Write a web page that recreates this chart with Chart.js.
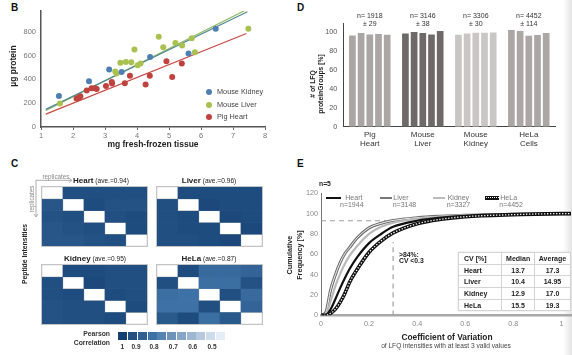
<!DOCTYPE html>
<html><head><meta charset="utf-8">
<script src="https://cdn.jsdelivr.net/npm/chart.js@4/dist/chart.umd.min.js"></script>
<style>
html,body{margin:0;padding:0;background:#fff;}
#fig{position:relative;width:572px;height:355px;overflow:hidden;background:#fff;font-family:'Liberation Sans',Arial,sans-serif;}
#fig canvas{position:absolute;}
.t{position:absolute;white-space:nowrap;line-height:1;}
#edge{position:absolute;left:563px;top:0;width:9px;height:355px;background:linear-gradient(to right,rgba(235,235,235,0),#e4e4e4);}
.hm{position:absolute;outline:0.7px solid #c4c4c4;}
#cvt{position:absolute;left:458px;top:252px;border-collapse:collapse;font-size:7px;font-weight:bold;color:#222;background:#fff;box-shadow:0 0 2px #ddd;}
#cvt td{border:0.6px solid #d4d4d4;height:10.7px;padding:0;text-align:center;}
#cvt td:first-child{text-align:left;padding-left:5px;}
</style></head><body><div id="fig"><div id="edge"></div></div>
<script>
// ---------- Panel B data ----------
const kidneyX = [1.56, 2.50, 3.13, 3.52, 4.41, 5.61, 6.46];
const kidneyY = [261, 385, 483, 463, 589, 618, 825];
const liverX = [1.59, 3.32, 3.36, 3.48, 3.65, 3.82, 3.92, 4.02, 4.11, 4.68, 4.82, 5.20, 5.41, 5.71, 5.81, 7.48];
const liverY = [197, 466, 449, 539, 547, 545, 652, 520, 534, 758, 671, 705, 685, 747, 629, 825];
const heartX = [2.11, 2.19, 2.23, 2.43, 2.58, 2.69, 2.74, 3.03, 3.21, 3.22, 3.62, 3.78, 4.27, 4.40, 4.92, 5.10, 5.40];
const heartY = [239, 248, 258, 306, 326, 326, 320, 345, 379, 365, 368, 430, 357, 430, 553, 421, 534];
const kidneyFitX = [1.15, 7.45], kidneyFitY = [148, 968];
const liverFitX = [1.15, 7.45], liverFitY = [138, 990];
const heartFitX = [1.15, 7.42], heartFitY = [108, 786];
const bLegend = ['Mouse Kidney', 'Mouse Liver', 'Pig Heart'];
const bXTicks = [1, 2, 3, 4, 5, 6, 7, 8];
const bYTicks = [0, 200, 400, 600, 800];

// ---------- Panel D data ----------
const dCategories = [['Pig','Heart'], ['Mouse','Liver'], ['Mouse','Kidney'], ['HeLa','Cells']];
const dRep1 = [96.8, 98.9, 97.5, 102.5];
const dRep2 = [99.3, 100.4, 98.9, 101.4];
const dRep3 = [97.9, 99.3, 99.6, 96.5];
const dRep4 = [98.2, 97.9, 99.6, 97.2];
const dRep5 = [97.5, 101.4, 100.0, 99.3];
const dN = ['n= 1918', 'n= 3146', 'n= 3306', 'n= 4452'];
const dSD = ['± 29', '± 38', '± 30', '± 114'];
const dYTicks = [0, 20, 40, 60, 80, 100];

// ---------- Panel C data ----------
const heartCorr = [
  [null, 0.95, 0.95, 0.95, 0.95],
  [0.93, null, 0.96, 0.94, 0.94],
  [0.94, 0.95, null, 0.95, 0.96],
  [0.93, 0.94, 0.95, null, 0.96],
  [0.93, 0.93, 0.94, 0.95, null]];
const liverCorr = [
  [null, 0.96, 0.96, 0.96, 0.96],
  [0.95, null, 0.97, 0.96, 0.96],
  [0.95, 0.96, null, 0.97, 0.96],
  [0.95, 0.96, 0.96, null, 0.97],
  [0.95, 0.95, 0.96, 0.97, null]];
const kidneyCorr = [
  [null, 0.96, 0.96, 0.95, 0.95],
  [0.95, null, 0.97, 0.95, 0.95],
  [0.95, 0.96, null, 0.96, 0.95],
  [0.94, 0.95, 0.95, null, 0.96],
  [0.94, 0.95, 0.95, 0.96, null]];
const helaCorr = [
  [null, 0.96, 0.87, 0.87, 0.89],
  [0.95, null, 0.86, 0.86, 0.94],
  [0.86, 0.85, null, 0.95, 0.87],
  [0.85, 0.85, 0.95, null, 0.89],
  [0.92, 0.96, 0.86, 0.92, null]];
const heatTitles = ['Heart', 'Liver', 'Kidney', 'HeLa'];
const heatAve = ['(ave.=0.94)', '(ave.=0.96)', '(ave.=0.95)', '(ave.=0.87)'];
const legendSteps = [1, 0.95, 0.9, 0.85, 0.8, 0.75, 0.7, 0.65, 0.6, 0.55, 0.5];
const legendLabels = ['1', '0.9', '0.8', '0.7', '0.6', '0.5'];

// ---------- Panel E data ----------
const cvX = [0, 0.02, 0.04, 0.06, 0.08, 0.10, 0.12, 0.15, 0.20, 0.25, 0.30, 0.40, 0.50, 0.60, 0.80, 1.00, 1.04];
const cvLiver  = [0, 3, 25, 40, 52, 61, 67, 76, 86, 90.5, 93.3, 96, 97.5, 98.5, 99.5, 100, 100];
const cvKidney = [0, 1, 14, 29, 41, 51, 59, 68, 80, 87, 91, 95, 97, 98.2, 99.4, 100, 100];
const cvHeart  = [0, 0, 6, 16, 27, 37, 46, 57, 71, 80, 87, 93, 96, 97.8, 99.2, 100, 100];
const cvHela   = [0, 0, 2, 6, 13, 22, 33, 45, 62, 73, 81, 90, 94.5, 97, 99, 100, 100];
const guideHX = [0, 0.27], guideHY = [93, 93];
const guideVX = [0.30, 0.30], guideVY = [0, 72];
const eXTicks = [0, 0.2, 0.4, 0.6, 0.8, 1];
const eYTicks = [0, 20, 40, 60, 80, 100, 120];
const eLegend = [['Heart','n=1944'], ['Liver','n=3148'], ['Kidney','n=3327'], ['HeLa','n=4452']];
const tableRows = [['CV [%]','Median','Average'], ['Heart','13.7','17.3'], ['Liver','10.4','14.95'], ['Kidney','12.9','17.0'], ['HeLa','15.5','19.3']];

// ---------- helpers ----------
const FONT = "'Liberation Sans', Arial, sans-serif";
Chart.defaults.font.family = FONT;
Chart.defaults.animation = false;
const fig = document.getElementById('fig');
function pts(xs, ys) { return xs.map((x, i) => ({x: x, y: ys[i]})); }
function fixTicks(arr) { return s => { s.ticks = arr.map(v => ({value: v})); }; }
function T(str, x, y, o = {}) {
  const d = document.createElement('div'); d.className = 't'; d.innerHTML = str;
  d.style.left = x + 'px'; d.style.top = y + 'px';
  d.style.fontSize = (o.size || 8) + 'px';
  if (o.bold) d.style.fontWeight = 'bold';
  d.style.color = o.color || '#222';
  const ax = o.align === 'left' ? '0' : o.align === 'right' ? '-100%' : '-50%';
  d.style.transform = 'translate(' + ax + ',-50%)' + (o.rot ? ' rotate(' + o.rot + 'deg)' : '');
  fig.appendChild(d); return d;
}
function canvas(x, y, w, h, cls) {
  const c = document.createElement('canvas'); c.width = w; c.height = h;
  c.style.left = x + 'px'; c.style.top = y + 'px'; c.style.width = w + 'px'; c.style.height = h + 'px';
  if (cls) c.className = cls;
  fig.appendChild(c); return c;
}
function box(x, y, w, h, css) {
  const d = document.createElement('div'); d.style.position = 'absolute';
  d.style.left = x + 'px'; d.style.top = y + 'px'; d.style.width = w + 'px'; d.style.height = h + 'px';
  Object.assign(d.style, css || {}); fig.appendChild(d); return d;
}
function mix(a, b, t) { return a.map((v, i) => Math.round(v + (b[i] - v) * t)); }
function corrColor(v) {
  if (v === null) return '#ffffff';
  const c0 = [20, 62, 112], c1 = [62, 113, 165], c2 = [230, 237, 246];
  let c;
  if (v >= 0.85) c = mix(c0, c1, (1 - v) / 0.15);
  else c = mix(c1, c2, Math.min(1, (0.85 - v) / 0.35));
  return 'rgb(' + c.join(',') + ')';
}

// ---------- Panel letters ----------
T('B', 11, 8, {size: 10, bold: true, align: 'left', color: '#111'});
T('D', 297, 8, {size: 10, bold: true, align: 'left', color: '#111'});
T('C', 11, 164, {size: 10, bold: true, align: 'left', color: '#111'});
T('E', 297, 164, {size: 10, bold: true, align: 'left', color: '#111'});

// ---------- Panel B ----------
const bKidC = '#4d7fb3', bLivC = '#a9c24f', bHeaC = '#c0423e';
new Chart(canvas(0, 0, 280, 155), {
  type: 'scatter',
  data: {datasets: [
    {label: bLegend[0], data: pts(kidneyX, kidneyY), backgroundColor: bKidC, borderWidth: 0, pointRadius: 3},
    {label: bLegend[1], data: pts(liverX, liverY), backgroundColor: bLivC, borderWidth: 0, pointRadius: 3},
    {label: bLegend[2], data: pts(heartX, heartY), backgroundColor: bHeaC, borderWidth: 0, pointRadius: 3},
    {data: pts(kidneyFitX, kidneyFitY), showLine: true, borderColor: '#4f8a96', borderWidth: 1.2, pointRadius: 0},
    {data: pts(liverFitX, liverFitY), showLine: true, borderColor: '#92b85c', borderWidth: 1.2, pointRadius: 0},
    {data: pts(heartFitX, heartFitY), showLine: true, borderColor: '#c94a44', borderWidth: 1.2, pointRadius: 0}
  ]},
  options: {
    responsive: false, events: [],
    layout: {padding: {left: 0, top: 11, right: 15, bottom: 0}},
    plugins: {legend: {display: false}, tooltip: {enabled: false}},
    scales: {
      x: {type: 'linear', min: 1, max: 8,
          ticks: {font: {size: 7.5}, color: '#777', padding: 1},
          afterBuildTicks: fixTicks(bXTicks),
          grid: {display: true, drawOnChartArea: false, tickLength: 3, color: '#666'},
          border: {color: '#555', width: 1.5},
          afterFit: s => { s.height = 28; }},
      y: {min: 0, max: 975,
          ticks: {font: {size: 7.5}, color: '#777', padding: 5},
          afterBuildTicks: fixTicks(bYTicks),
          grid: {display: false, drawTicks: false}, border: {color: '#555', width: 1.5},
          afterFit: s => { s.width = 41; }}
    }
  }
});
T('mg fresh-frozen tissue', 153, 144, {size: 8.5, bold: true});
T('µg protein', 13, 66, {size: 8.5, bold: true, rot: -90});
[[bKidC, 92.3], [bLivC, 105], [bHeaC, 117.3]].forEach((p, i) => {
  box(206.3, p[1] - 3, 6, 6, {borderRadius: '50%', background: p[0]});
  T(bLegend[i], 217, p[1], {size: 7.3, align: 'left', color: '#444'});
});

// ---------- Panel D ----------
const dCols = ['#aba5a3', '#6f6a69', '#cac6c5', '#aca7a5'];
const dPlugin = {id: 'nlabels', afterDraw(ch) {
  const c = ch.ctx; c.save(); c.font = '7px ' + FONT; c.fillStyle = '#333'; c.textAlign = 'center'; c.textBaseline = 'middle';
  dN.forEach((s, i) => { const x = ch.scales.x.getPixelForValue(i); c.fillText(s, x, 16); c.fillText(dSD[i], x, 24.5); });
  c.restore();
}};
new Chart(canvas(286, 0, 286, 155), {
  type: 'bar',
  data: {labels: dCategories, datasets: [dRep1, dRep2, dRep3, dRep4, dRep5].map(d => ({data: d, backgroundColor: dCols, borderWidth: 0}))},
  options: {
    responsive: false, events: [],
    categoryPercentage: 0.82, barPercentage: 0.77,
    layout: {padding: {left: 0, top: 23, right: 16.7, bottom: 0}},
    plugins: {legend: {display: false}, tooltip: {enabled: false}},
    scales: {
      x: {ticks: {font: {size: 8, lineHeight: 1.2}, color: '#333', padding: 3},
          grid: {display: false, drawTicks: false}, border: {color: '#444', width: 1},
          afterFit: s => { s.height = 28.3; }},
      y: {min: 0, max: 110,
          ticks: {font: {size: 7.2}, color: '#555', padding: 6},
          afterBuildTicks: fixTicks(dYTicks),
          grid: {display: false, drawTicks: false}, border: {color: '#444', width: 1},
          afterFit: s => { s.width = 57.3; }}
    }
  },
  plugins: [dPlugin]
});
T('# of LFQ', 313, 84, {size: 6.8, bold: true, rot: -90});
T('proteinGroups [%]', 321, 84, {size: 6.8, bold: true, rot: -90});

// ---------- Panel C ----------
function heat(x, y, M) {
  const c = canvas(x, y, 105, 59, 'hm');
  new Chart(c, {
    type: 'bar',
    data: {labels: [0, 1, 2, 3, 4], datasets: M.map(row => ({
      data: row.map(() => 1), backgroundColor: row.map(corrColor),
      borderColor: '#c2c2c2', borderWidth: row.map(v => v === null ? 0.6 : 0), borderSkipped: false,
      barPercentage: 1, categoryPercentage: 1}))},
    options: {responsive: false, events: [], layout: {padding: 0},
      plugins: {legend: {display: false}, tooltip: {enabled: false}},
      scales: {x: {display: false, stacked: true}, y: {display: false, stacked: true, min: 0, max: 5, reverse: true}}}
  });
}
heat(42, 187, heartCorr);
heat(157, 187, liverCorr);
heat(42, 265, kidneyCorr);
heat(157, 265, helaCorr);
function htitle(i, x, y, align) {
  T('<b style="font-size:8px">' + heatTitles[i] + '</b> <span style="font-size:6.6px">' + heatAve[i] + '</span>', x, y, {size: 6.6, align: align, color: '#222'});
}
htitle(0, 73, 181, 'left');
htitle(1, 209, 181);
htitle(2, 95, 259);
htitle(3, 209, 259);
T('replicates', 56, 176.5, {size: 6.3, color: '#888'});
T('replicates', 32, 198.5, {size: 6.3, color: '#888', rot: -90});
const svgNS = 'http://www.w3.org/2000/svg';
const sv = document.createElementNS(svgNS, 'svg');
sv.setAttribute('width', 80); sv.setAttribute('height', 60);
sv.style.position = 'absolute'; sv.style.left = '30px'; sv.style.top = '175px';
sv.innerHTML = '<path d="M6 5.3 H41" stroke="#999" stroke-width="0.8" fill="none"/><path d="M39 3.3 L42 5.3 L39 7.3" stroke="#999" stroke-width="0.8" fill="none"/>' +
  '<path d="M6 5.3 V41" stroke="#999" stroke-width="0.8" fill="none"/><path d="M4 39 L6 42 L8 39" stroke="#999" stroke-width="0.8" fill="none"/>';
fig.appendChild(sv);
T('Peptide Intensities', 25, 254, {size: 6.8, bold: true, rot: -90});
T('Pearson', 110, 334, {size: 6.8, bold: true, align: 'right', color: '#333'});
T('Correlation', 110, 343, {size: 6.8, bold: true, align: 'right', color: '#333'});
legendSteps.forEach((v, i) => box(118.3 + i * 9.75, 331.5, 9.2, 8.5, {background: corrColor(v)}));
const lgX = [122.3, 136, 154, 173.3, 192.7, 212];
legendLabels.forEach((s, i) => T(s, lgX[i], 346.5, {size: 6.5, bold: true, color: '#333'}));

// ---------- Panel E ----------
const eLines = [
  {data: pts(cvX, cvHela), borderColor: '#ffffff', borderWidth: 1.3, borderDash: [1.3, 1.7]},
  {data: pts(cvX, cvHela), borderColor: '#111111', borderWidth: 3.6},
  {data: pts(cvX, cvHeart), borderColor: '#111111', borderWidth: 2.2},
  {data: pts(cvX, cvKidney), borderColor: '#b9b9b9', borderWidth: 2.2},
  {data: pts(cvX, cvLiver), borderColor: '#ffffff', borderWidth: 0.9},
  {data: pts(cvX, cvLiver), borderColor: '#6e6e6e', borderWidth: 3},
  {data: pts(guideHX, guideHY), borderColor: '#a0a0a0', borderWidth: 1.2, borderDash: [5, 4]},
  {data: pts(guideVX, guideVY), borderColor: '#a0a0a0', borderWidth: 1.2, borderDash: [5, 4]}
].map(d => Object.assign({type: 'line', pointRadius: 0, cubicInterpolationMode: 'monotone', fill: false}, d));
new Chart(canvas(286, 160, 286, 195), {
  type: 'line',
  data: {datasets: eLines},
  options: {
    responsive: false, events: [],
    layout: {padding: {left: 0, top: 33.3, right: 1, bottom: 0}},
    plugins: {legend: {display: false}, tooltip: {enabled: false}},
    scales: {
      x: {type: 'linear', min: 0, max: 1.04,
          ticks: {font: {size: 7.2}, color: '#888', padding: 4,
                  callback: v => (Math.round(v * 10) / 10).toString()},
          afterBuildTicks: fixTicks(eXTicks),
          grid: {display: false, drawTicks: false}, border: {color: '#a8a8a8', width: 2.5},
          afterFit: s => { s.height = 39.7; }},
      y: {min: 0, max: 120,
          ticks: {font: {size: 7.2}, color: '#888', padding: 3},
          afterBuildTicks: fixTicks(eYTicks),
          grid: {display: false, drawTicks: false}, border: {color: '#777', width: 1},
          afterFit: s => { s.width = 35; }}
    }
  }
});
T('n=5', 319, 183.5, {size: 6.8, bold: true, align: 'left'});
// legend
box(326, 196.5, 15, 2.4, {background: '#111'});
box(380.3, 196.8, 12, 1.8, {background: '#777'});
box(432.7, 196.8, 12.6, 1.8, {background: '#bbb'});
box(485.3, 196, 14, 3.6, {background: '#111'});
box(485.8, 197.2, 13, 0, {borderTop: '1.2px dotted #fff'});
const eLX = [[345.3, 340], [393.3, 392.7], [447.7, 446.7], [500.3, 499.3]];
eLegend.forEach((p, i) => {
  T(p[0], eLX[i][0], 197, {size: 7, align: 'left', color: '#777'});
  T(p[1], eLX[i][1], 204, {size: 7, align: 'left', color: '#777'});
});
T('&gt;84%:', 399, 254.5, {size: 6.8, bold: true, align: 'left'});
T('CV &lt;0.3', 399, 261, {size: 6.8, bold: true, align: 'left'});
T('Coefficient of Variation', 447, 337, {size: 8.4, bold: true});
T('of LFQ intensities with at least 3 valid values', 446, 346, {size: 6.6, color: '#444'});
T('Frequency [%]', 300, 255, {size: 7.2, bold: true, rot: -90});
T('Cumulative', 290, 255, {size: 7.2, bold: true, rot: -90});
// table
const tb = document.createElement('table'); tb.id = 'cvt';
const widths = [37.3, 31.7, 35];
tableRows.forEach(r => {
  const tr = document.createElement('tr');
  r.forEach((s, j) => { const td = document.createElement('td'); td.textContent = s; td.style.width = widths[j] + 'px'; tr.appendChild(td); });
  tb.appendChild(tr);
});
fig.appendChild(tb);
</script></body></html>
